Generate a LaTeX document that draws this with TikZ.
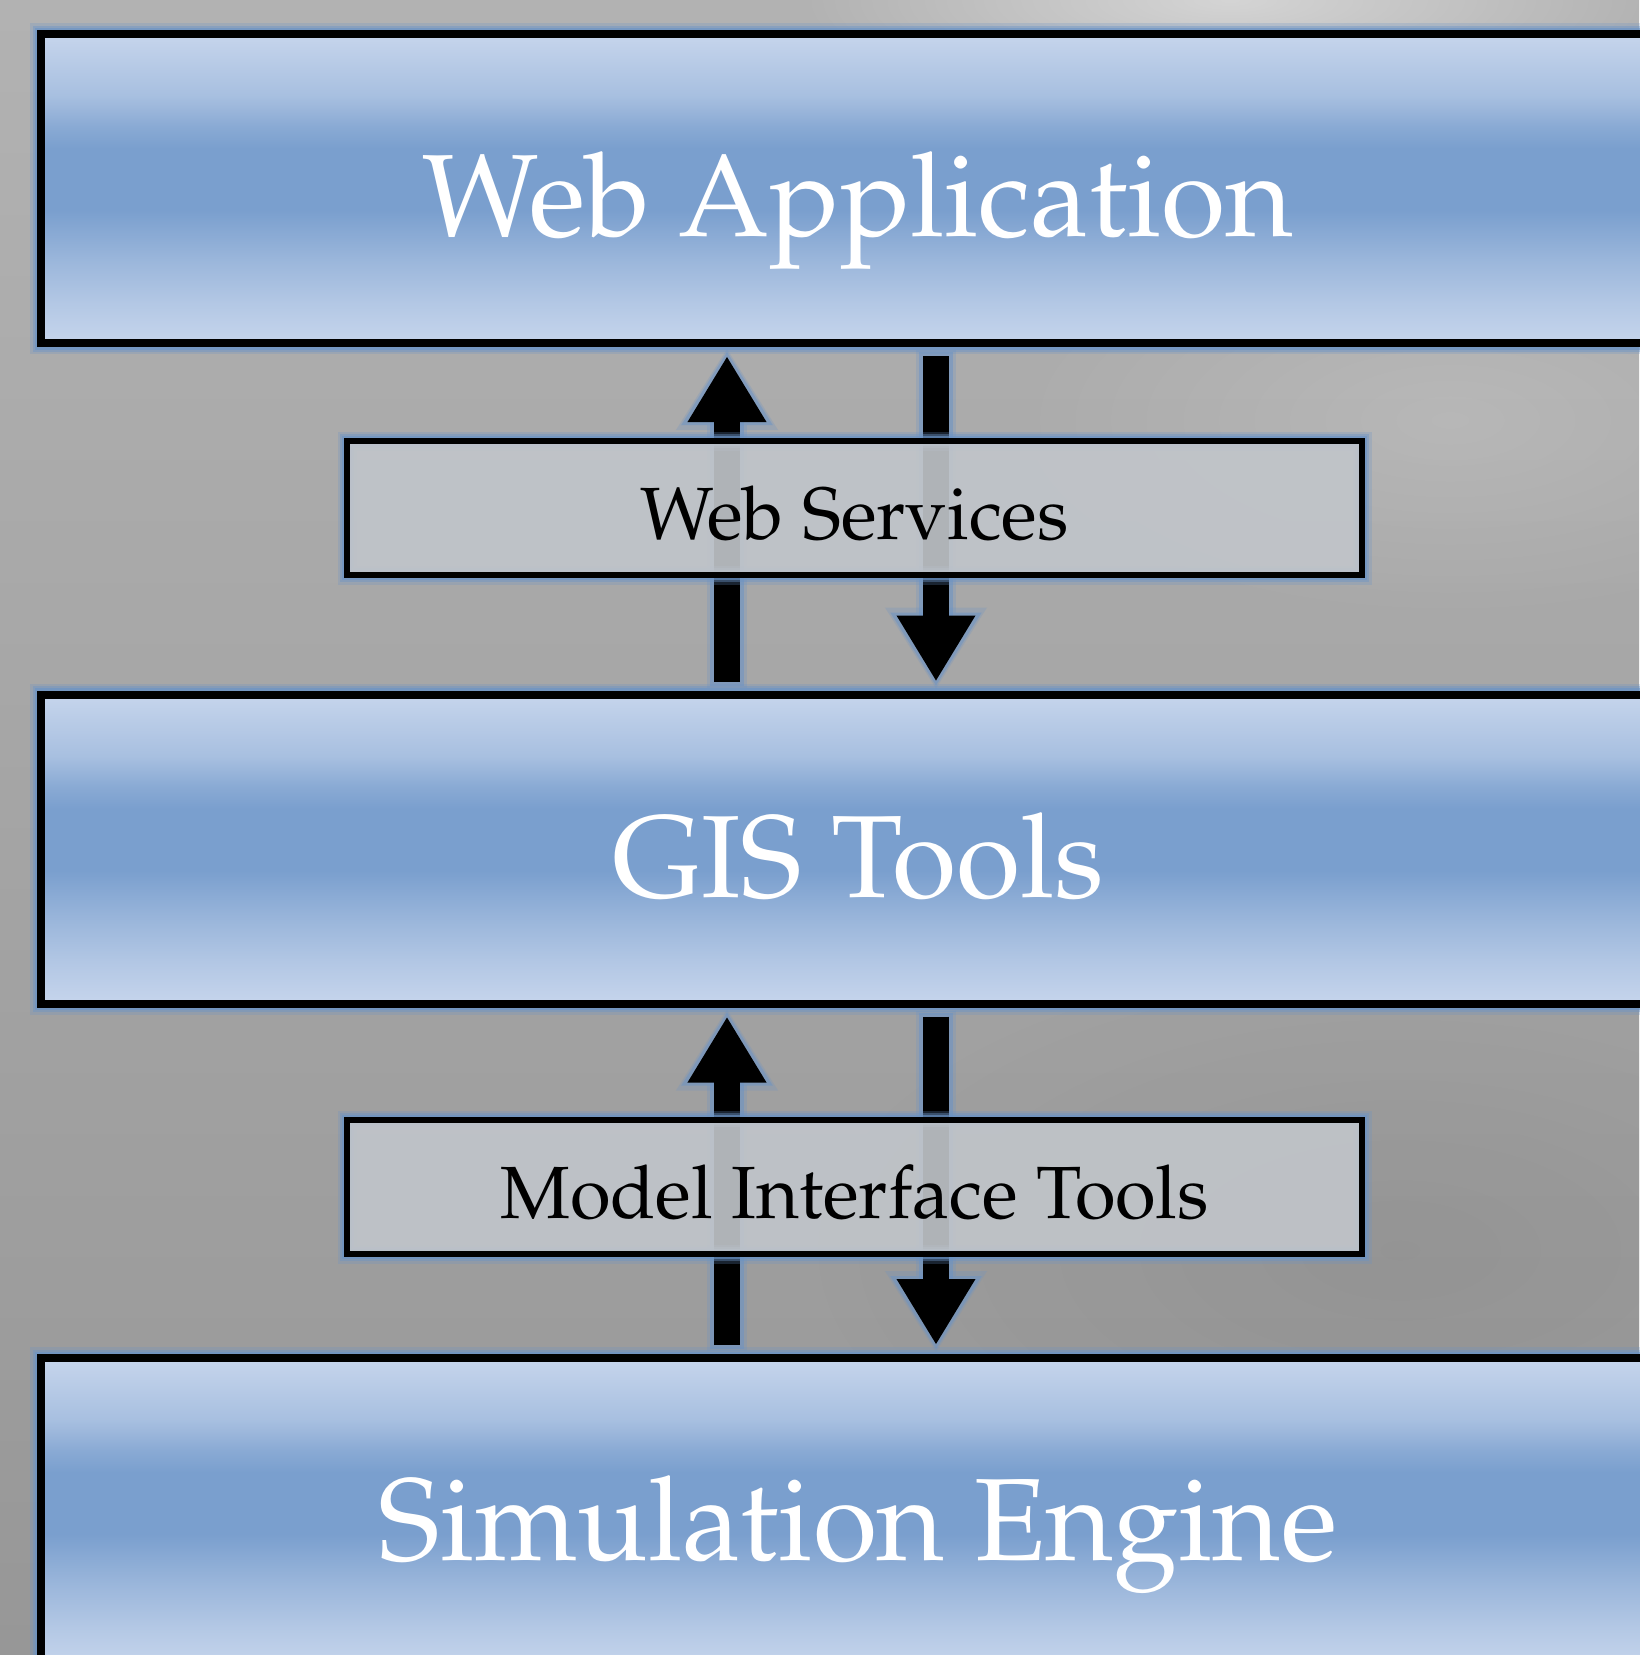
\documentclass[tikz,border=0pt]{standalone}
\usepackage[T1]{fontenc}
\renewcommand{\rmdefault}{ppl}
\usetikzlibrary{arrows.meta,fadings}
\definecolor{boxlight}{HTML}{C6D5EC}
\definecolor{boxdark}{HTML}{7A9FCE}
\colorlet{boxc25}{boxdark!25!boxlight}
\colorlet{boxc40}{boxdark!40!boxlight}
\colorlet{boxc55}{boxdark!55!boxlight}
\colorlet{boxc80}{boxdark!80!boxlight}
\definecolor{glowc}{HTML}{6A93C6}
\definecolor{bgtop}{HTML}{B2B2B2}
\definecolor{bgbot}{HTML}{979797}
\definecolor{smallfill}{RGB}{193,197,202}
\pgfdeclareverticalshading{bluebar}{100bp}{color(0bp)=(boxlight); color(25bp)=(boxlight); color(31.5bp)=(boxc25); color(38bp)=(boxc55); color(46.5bp)=(boxdark); color(56.5bp)=(boxdark); color(60bp)=(boxc80); color(65bp)=(boxc40); color(75bp)=(boxlight); color(100bp)=(boxlight)}
\tikzfading[name=softspot, inner color=transparent!0, outer color=transparent!100]
\begin{document}
\begin{tikzpicture}[x=1pt,y=-1pt,
  bigbox/.style={rectangle, draw=black, line width=8pt, shade, shading=bluebar,
    minimum width=1634pt, minimum height=309pt, inner sep=0pt, text=white,
    font=\fontsize{117}{120}\selectfont, text height=99pt, text depth=3pt,
    preaction={draw=glowc, line width=22pt, draw opacity=0.25},
    preaction={draw=glowc, line width=17pt, draw opacity=0.4},
    preaction={draw=glowc, line width=13pt, draw opacity=0.6}},
  smallbox/.style={rectangle, draw=black, line width=6pt, fill=smallfill,
    fill opacity=0.91, text opacity=1, text=black,
    minimum width=1015pt, minimum height=134pt, inner sep=0pt,
    font=\fontsize{74}{80}\selectfont, text height=66pt, text depth=3pt,
    preaction={draw=glowc, line width=19pt, draw opacity=0.25},
    preaction={draw=glowc, line width=14pt, draw opacity=0.4},
    preaction={draw=glowc, line width=10pt, draw opacity=0.6}},
  flowarrow/.style={line width=26pt, draw=black, -{Triangle[width=74pt,length=66pt]},
    shorten <=9pt, shorten >=9pt},
  flowglowa/.style={line width=40pt, draw=glowc, opacity=0.25,
    -{Triangle[width=96pt,length=82pt]}, shorten <=3pt, shorten >=1pt},
  flowglowb/.style={line width=34pt, draw=glowc, opacity=0.5,
    -{Triangle[width=86pt,length=74pt]}, shorten <=5pt, shorten >=4pt}
]
\useasboundingbox (0,0) rectangle (1639,1655);
% background
\shade[top color=bgtop, bottom color=bgbot] (0,0) rectangle (1639,1655);
\fill[white, opacity=0.45, path fading=softspot] (1230,0) ellipse (430pt and 110pt);
\fill[white, opacity=0.15, path fading=softspot] (1450,420) ellipse (450pt and 200pt);
\fill[black, opacity=0.06, path fading=softspot] (1400,1250) ellipse (600pt and 300pt);

% main layers
\node[bigbox] (web) at (858,188.5) {Web Application};
\node[bigbox] (gis) at (858,849) {GIS Tools};
\node[bigbox] (sim) at (858,1512.5) {Simulation Engine};

\coordinate (upx) at (727,0);
\coordinate (dnx) at (936,0);

% arrow glows
\foreach \g in {flowglowa,flowglowb}{
  \draw[\g] (gis.north -| upx) -- (web.south -| upx);
  \draw[\g] (web.south -| dnx) -- (gis.north -| dnx);
  \draw[\g] (sim.north -| upx) -- (gis.south -| upx);
  \draw[\g] (gis.south -| dnx) -- (sim.north -| dnx);
}
% arrows
\draw[flowarrow] (gis.north -| upx) -- (web.south -| upx);
\draw[flowarrow] (web.south -| dnx) -- (gis.north -| dnx);
\draw[flowarrow] (sim.north -| upx) -- (gis.south -| upx);
\draw[flowarrow] (gis.south -| dnx) -- (sim.north -| dnx);

% interface layers
\node[smallbox] (ws) at (854.5,508) {Web Services};
\node[smallbox] (mit) at (854.5,1187) {Model Interface Tools};
\end{tikzpicture}
\end{document}
